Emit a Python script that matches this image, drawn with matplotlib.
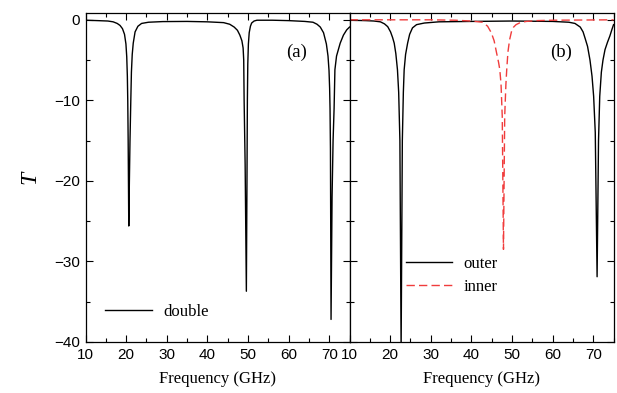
# transmission dips of the double / outer / inner structures

import matplotlib.pyplot as plt
from matplotlib.ticker import MultipleLocator

# panel (a): double
freq_double = [10, 13, 15.5, 16.8, 17.8, 18.5, 19.1, 19.6, 19.95, 20.15, 20.3, 20.4, 20.5, 20.65,
               20.8, 20.95, 21.15, 21.3, 21.5, 21.75, 22.2, 22.9, 23.8, 25.5, 29, 35, 40, 44,
               45.5, 46.6, 47.4, 48.0, 48.5, 48.8, 48.95, 49.05, 49.3, 49.6, 49.75, 49.85, 49.95,
               50.1, 50.3, 50.6, 50.9, 51.5, 52.2, 56, 60, 64, 66, 67, 67.8, 68.6, 69.3, 69.7,
               69.95, 70.1, 70.2, 70.3, 70.45, 70.7, 70.95, 71.2, 71.4, 71.8, 72.7, 73.5, 74.3, 75]
T_double = [-0.05, -0.1, -0.15, -0.25, -0.45, -0.7, -1.1, -1.8, -3.0, -4.6, -7, -10, -15, -25.6,
            -20, -15, -10, -6.5, -4.3, -2.9, -1.5, -0.8, -0.45, -0.3, -0.22, -0.2, -0.25, -0.35,
            -0.55, -0.9, -1.3, -1.9, -2.6, -3.5, -5, -10, -18, -33.7, -20, -10, -5.5,
            -3.0, -1.6, -0.8, -0.4, -0.15, -0.05, -0.05, -0.1, -0.2, -0.3, -0.55, -0.9, -1.6, -3.0, -4.5,
            -6.3, -8.5, -11, -16, -37.2, -22, -15, -11, -6.2, -4.5, -2.9, -1.9, -1.25, -0.9]

# panel (b): outer
freq_outer = [10, 14, 16, 17.6, 18.6, 19.4, 20.1, 20.6, 21.0, 21.4, 21.8, 22.1, 22.4, 22.7,
              23.0, 23.25, 23.45, 23.8, 24.3, 24.8, 25.5, 26.5, 28.4, 32, 40, 50, 60, 64,
              65.5, 66.8, 67.5, 68.0, 68.6, 69.2, 69.7, 70.1, 70.5, 70.95, 71.3, 71.6, 72.0,
              72.4, 72.9, 73.5, 74.1, 74.6, 75]
T_outer = [-0.05, -0.1, -0.15, -0.25, -0.5, -0.85, -1.5, -2.2, -2.9, -4.2, -6.2, -9, -15, -41,
           -15, -9, -6.2, -4.3, -2.9, -1.8, -1.0, -0.6, -0.4, -0.25, -0.2, -0.15, -0.2, -0.3,
           -0.45, -0.9, -1.5, -2.3, -3.3, -5, -7, -9.5, -14, -31.9, -15, -9.5, -6.5,
           -5, -3.7, -2.8, -2.0, -1.2, -0.6]

# panel (b): inner
freq_inner = [10, 20, 30, 36, 40, 42.8, 44.0, 44.9, 45.6, 46.2, 46.7, 47.0, 47.3, 47.6, 47.9,
              48.2, 48.5, 48.7, 49.0, 49.4, 49.9, 50.4, 51.0, 52, 53.5, 56, 60, 75]
T_inner = [0.0, 0.0, 0.0, -0.05, -0.15, -0.3, -0.8, -1.6, -2.6, -4.1, -5.3, -6.2, -8, -12, -28.5,
           -12, -8, -6.2, -4, -2.5, -1.4, -0.9, -0.6, -0.35, -0.2, -0.1, -0.05, 0.0]

serif = ['Liberation Serif', 'DejaVu Serif']
sans = ['Liberation Sans', 'DejaVu Sans']


def style_axes(ax, show_ylabels):
    ax.set_xlim(10, 75)
    ax.set_ylim(-40, 0.85)
    ax.xaxis.set_major_locator(MultipleLocator(10))
    ax.xaxis.set_minor_locator(MultipleLocator(5))
    ax.yaxis.set_major_locator(MultipleLocator(10))
    ax.yaxis.set_minor_locator(MultipleLocator(5))
    ax.tick_params(which='both', direction='in', top=True, right=True, width=0.8)
    ax.tick_params(which='major', length=5, labelsize=11, pad=4)
    ax.tick_params(which='minor', length=3)
    if not show_ylabels:
        ax.tick_params(axis='y', labelleft=False)
    for lab in ax.get_xticklabels() + ax.get_yticklabels():
        lab.set_family(sans)
    for sp in ax.spines.values():
        sp.set_linewidth(0.9)
    ax.set_xlabel('Frequency (GHz)', family=serif, fontsize=12, labelpad=7)


def main():
    fig = plt.figure(figsize=(6.17, 3.93), dpi=100)
    ax1 = fig.add_axes([0.1386, 0.1298, 0.4279, 0.8372])
    ax2 = fig.add_axes([0.5665, 0.1298, 0.4279, 0.8372])

    ax1.plot(freq_double, T_double, color='black', lw=1.0, label='double')
    ax2.plot(freq_outer, T_outer, color='black', lw=1.0, label='outer')
    ax2.plot(freq_inner, T_inner, color='#f03c3c', lw=1.0, dashes=(6, 3), label='inner')

    style_axes(ax1, True)
    style_axes(ax2, False)

    ax1.set_ylabel('T', family=serif, style='italic', fontsize=17, rotation=90, labelpad=10)
    ax1.text(0.80, 0.88, '(a)', transform=ax1.transAxes, family=serif, fontsize=13.5,
             ha='center', va='center')
    ax2.text(0.80, 0.88, '(b)', transform=ax2.transAxes, family=serif, fontsize=13.5,
             ha='center', va='center')

    ax1.legend(loc='center left', bbox_to_anchor=(0.074, 0.091), frameon=False,
               borderpad=0, borderaxespad=0, handlelength=2.8, handletextpad=0.7,
               prop={'family': serif, 'size': 12})
    ax2.legend(loc='center left', bbox_to_anchor=(0.212, 0.202), frameon=False,
               borderpad=0, borderaxespad=0, handlelength=2.8, handletextpad=0.7,
               labelspacing=0.45, prop={'family': serif, 'size': 12})

    fig.savefig('out.png', dpi=100)


if __name__ == "__main__":
    main()
